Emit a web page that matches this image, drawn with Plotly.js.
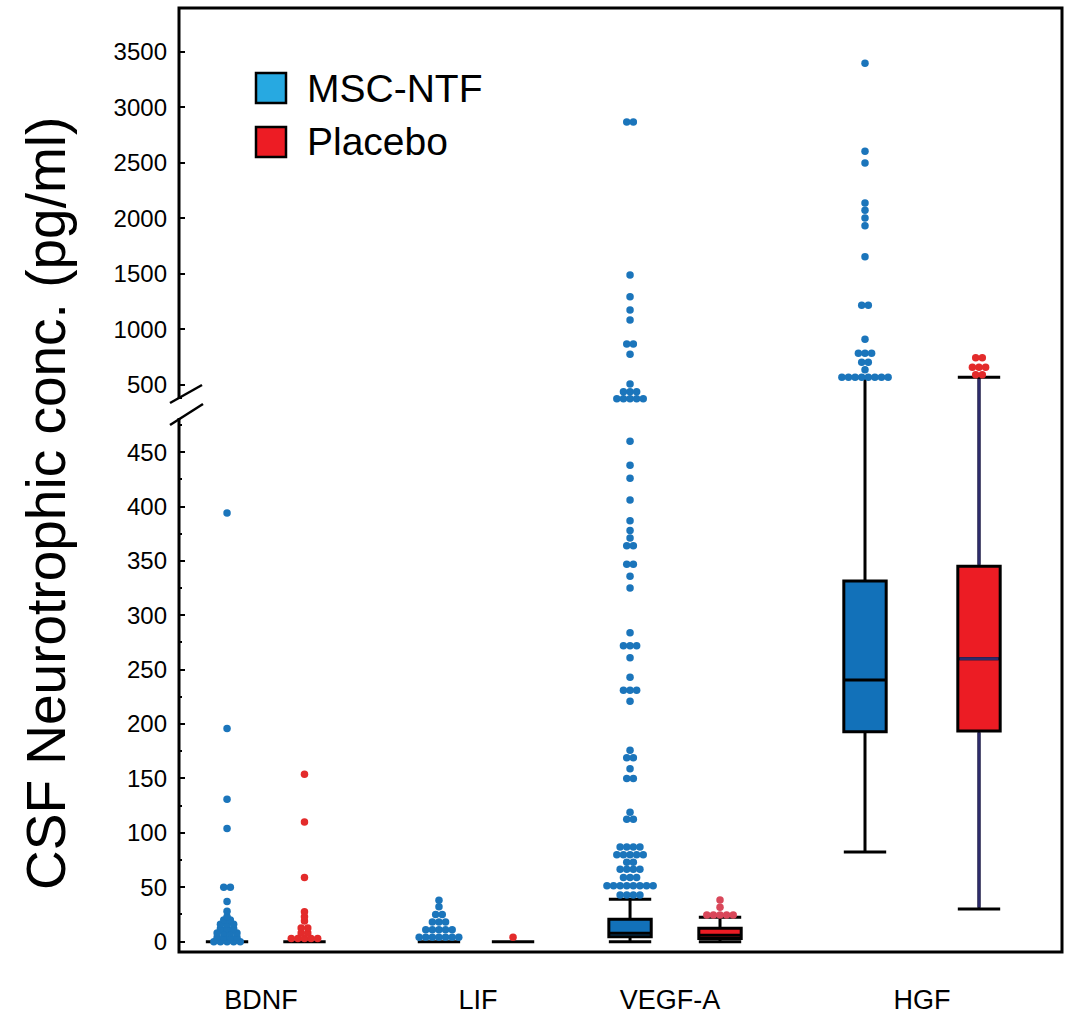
<!DOCTYPE html>
<html>
<head>
<meta charset="utf-8">
<script src="https://cdn.plot.ly/plotly-3.0.1.min.js"></script>
<style>html,body{margin:0;padding:0;background:#fff;}#chart{width:1076px;height:1014px;}</style>
</head>
<body>
<div id="chart"></div>
<script>
// ---------- data ----------
const categories = ['BDNF', 'LIF', 'VEGF-A', 'HGF'];
const groups = ['MSC-NTF', 'Placebo'];

// box statistics (pg/ml), one value per category
const mscQ1     = [0, 0, 4.6, 193];
const mscMedian = [0, 0, 7.7, 240.5];
const mscQ3     = [0, 0, 20.6, 331.5];
const mscLower  = [0, 0, 0, 82.5];
const mscUpper  = [0, 0, 39, 569];

const plaQ1     = [0, 0, 3, 193.7];
const plaMedian = [0, 0, 6, 260];
const plaQ3     = [0, 0, 12.3, 345];
const plaLower  = [0, 0, 0, 30];
const plaUpper  = [0, 0, 22.4, 569];

// individual outlying values, read on the lower (0-500) scale
const bdnfMscOut = [0,0,0,0,0, 4,4,4,4, 8,8,8,8, 12,12,12, 16,16,16, 20,20, 23, 28, 37, 50,50, 104, 131, 196, 394];
const bdnfPlaOut = [3,3,3,3,3, 8,8, 12.5,12.5, 19, 23, 27.6, 59, 110, 154];
const lifMscOut  = [4,4,4,4,4,4,4, 11,11,11,11,11, 18,18,18, 25,25, 32, 38];
const lifPlaOut  = [4];
const vegfMscOut = [43,43,43,43, 51.5,51.5,51.5,51.5,51.5,51.5,51.5,51.5, 59,59,59, 66.5,66.5,66.5,66.5, 73,73,
                    80,80,80,80,80, 87,87,87,87, 112.5,112.5, 119, 150,150, 159, 169,169, 176,
                    221, 231,231,231, 243, 261, 272,272,272, 284, 325, 336, 347,347, 364,364, 371, 378, 387,
                    406, 426, 438, 460, 499,499,499,499,499];
const vegfPlaOut = [24.5,24.5,24.5,24.5,24.5, 31.6, 38.3];
// outlying values read on the upper (compressed) scale
const vegfMscOutHigh = [440,440,440, 509, 776, 869,869, 1085, 1175, 1295, 1490, 2867,2867];
const hgfMscOutHigh  = [569,569,569,569,569,569,569,569, 638, 704,704, 785,785,785, 911, 1217,1217,
                        1655, 1934, 2003, 2072, 2138, 2498, 2603, 3395];
const hgfPlaOutHigh  = [593,593, 659,659,659, 746,746];

// tick labels
const lowTicks  = [0, 50, 100, 150, 200, 250, 300, 350, 400, 450];
const highTicks = [500, 1000, 1500, 2000, 2500, 3000, 3500];

// ---------- layout constants ----------
const posMsc = [0.544, 2.944, 5.108, 7.769];
const posPla = [1.421, 3.783, 6.127, 9.060];
const labelPos = [0.929, 3.386, 5.561, 8.414];
const BOX_W = 0.48;
const PX_PER_X = 883 / 10;
const DOT_DX = 6.6 / PX_PER_X;
const SPLIT = 0.589;                // paper fraction of the axis break
const LOW_RANGE = [-9.5, 501.6];
const HIGH_RANGE = [401, 3893];

const BLUE_BOX = '#1271b9', RED_BOX = '#ec1c24';
const BLUE_DOT = '#1b75bb', RED_DOT = '#e32b2b', PINK_DOT = '#d9475a';
const NAVY = '#2d2b6b';
const FONT = 'Liberation Sans, Arial, sans-serif';

function swarm(values, center) {
  const counts = new Map();
  values.forEach(v => counts.set(v, (counts.get(v) || 0) + 1));
  const seen = new Map();
  const xs = [], ys = [];
  values.forEach(v => {
    const n = counts.get(v);
    const i = seen.get(v) || 0;
    seen.set(v, i + 1);
    xs.push(center + (i - (n - 1) / 2) * DOT_DX);
    ys.push(v);
  });
  return {xs, ys};
}

const traces = [];

function addBoxes(pos, q1, med, q3, lo, hi, fill) {
  for (let i = 0; i < pos.length; i++) {
    traces.push({
      type: 'box', x: [pos[i]], q1: [q1[i]], median: [med[i]], q3: [q3[i]],
      lowerfence: [lo[i]], upperfence: [hi[i]], boxpoints: false,
      width: BOX_W, whiskerwidth: 1, fillcolor: fill,
      line: {color: '#000', width: 3}, yaxis: 'y', xaxis: 'x',
      showlegend: false, hoverinfo: 'skip'
    });
    if (hi[i] > LOW_RANGE[1]) {
      // whisker continues above the axis break
      traces.push({
        type: 'box', x: [pos[i]], q1: [q3[i]], median: [q3[i]], q3: [q3[i]],
        lowerfence: [q3[i]], upperfence: [hi[i]], boxpoints: false,
        width: BOX_W, whiskerwidth: 1, fillcolor: 'rgba(0,0,0,0)',
        line: {color: '#000', width: 3}, yaxis: 'y2', xaxis: 'x',
        showlegend: false, hoverinfo: 'skip'
      });
    }
  }
}
addBoxes(posMsc, mscQ1, mscMedian, mscQ3, mscLower, mscUpper, BLUE_BOX);
addBoxes(posPla, plaQ1, plaMedian, plaQ3, plaLower, plaUpper, RED_BOX);

// navy whiskers and median for the HGF placebo box
(function () {
  const i = 3, p = posPla[i], h = BOX_W / 2 - 0.02;
  const seg = (xs, ys, ax) => traces.push({type: 'scatter', mode: 'lines', x: xs, y: ys, yaxis: ax,
    line: {color: NAVY, width: 3}, showlegend: false, hoverinfo: 'skip'});
  seg([p, p], [plaLower[i] + 1.5, plaQ1[i] - 1.5], 'y');
  seg([p, p], [plaQ3[i] + 1.5, plaUpper[i]], 'y');
  seg([p, p], [plaQ3[i], plaUpper[i] - 15], 'y2');
  seg([p - h, p + h], [plaMedian[i], plaMedian[i]], 'y');
})();

function addDots(values, center, color, axis) {
  const s = swarm(values, center);
  traces.push({
    type: 'scatter', mode: 'markers', x: s.xs, y: s.ys, yaxis: axis, cliponaxis: false,
    marker: {color: color, size: 7.5, line: {width: 0}},
    showlegend: false, hoverinfo: 'y'
  });
}
addDots(bdnfMscOut, posMsc[0], BLUE_DOT, 'y');
addDots(bdnfPlaOut, posPla[0], RED_DOT, 'y');
addDots(lifMscOut, posMsc[1], BLUE_DOT, 'y');
addDots(lifPlaOut, posPla[1], RED_DOT, 'y');
addDots(vegfMscOut, posMsc[2], BLUE_DOT, 'y');
addDots(vegfPlaOut, posPla[2], PINK_DOT, 'y');
addDots(vegfMscOutHigh, posMsc[2], BLUE_DOT, 'y2');
addDots(hgfMscOutHigh, posMsc[3], BLUE_DOT, 'y2');
addDots(hgfPlaOutHigh, posPla[3], RED_DOT, 'y2');

// ---------- layout ----------
const px = v => (v - 179) / 883;
const py = v => (952 - v) / 944;

const axisCommon = {
  showgrid: false, zeroline: false, showline: false,
  ticks: 'inside', ticklen: 6, tickwidth: 2, tickcolor: '#000',
  tickfont: {family: FONT, size: 24, color: '#000'}, ticklabelstandoff: 11,
  anchor: 'x', fixedrange: true
};

const layout = {
  width: 1076, height: 1014,
  margin: {l: 179, r: 14, t: 8, b: 62, pad: 0},
  paper_bgcolor: '#fff', plot_bgcolor: '#fff',
  showlegend: false, boxmode: 'overlay',
  font: {family: FONT, color: '#000'},
  xaxis: {
    range: [0, 10], showgrid: false, zeroline: false, showline: false,
    tickmode: 'array', tickvals: labelPos, ticktext: categories, ticks: '',
    tickfont: {family: FONT, size: 27, color: '#000'}, ticklabelstandoff: 29, fixedrange: true
  },
  yaxis: Object.assign({}, axisCommon, {
    domain: [0, SPLIT], range: LOW_RANGE,
    tickmode: 'array', tickvals: lowTicks, ticktext: lowTicks.map(String),
    minor: {tickmode: 'linear', tick0: 0, dtick: 25, ticks: 'inside', ticklen: 3, tickwidth: 2, tickcolor: '#000'}
  }),
  yaxis2: Object.assign({}, axisCommon, {
    domain: [SPLIT, 1], range: HIGH_RANGE,
    tickmode: 'array', tickvals: highTicks, ticktext: highTicks.map(String)
  }),
  shapes: [
    {type: 'rect', xref: 'paper', yref: 'paper', x0: 0, x1: 1, y0: 0, y1: 1,
     line: {color: '#000', width: 3}, fillcolor: 'rgba(0,0,0,0)'},
    // axis break
    {type: 'rect', xref: 'paper', yref: 'paper', x0: px(176), x1: px(182), y0: py(418), y1: py(399),
     line: {width: 0}, fillcolor: '#fff'},
    {type: 'line', xref: 'paper', yref: 'paper', x0: px(170), y0: py(403), x1: px(202), y1: py(385),
     line: {color: '#000', width: 2.5}},
    {type: 'line', xref: 'paper', yref: 'paper', x0: px(170), y0: py(425), x1: px(203), y1: py(404),
     line: {color: '#000', width: 2.5}},
    // legend swatches
    {type: 'rect', xref: 'paper', yref: 'paper', x0: px(256), x1: px(286), y0: py(103), y1: py(73),
     line: {color: '#000', width: 2.5}, fillcolor: '#27a9e1'},
    {type: 'rect', xref: 'paper', yref: 'paper', x0: px(256), x1: px(286), y0: py(157), y1: py(127),
     line: {color: '#000', width: 2.5}, fillcolor: '#ed1c24'}
  ],
  annotations: [
    {text: groups[0], xref: 'paper', yref: 'paper', x: px(305), y: py(88), xanchor: 'left', yanchor: 'middle',
     showarrow: false, font: {family: FONT, size: 39, color: '#000'}},
    {text: groups[1], xref: 'paper', yref: 'paper', x: px(305), y: py(142), xanchor: 'left', yanchor: 'middle',
     showarrow: false, font: {family: FONT, size: 39, color: '#000'}},
    {text: 'CSF Neurotrophic conc. (pg/ml)', xref: 'paper', yref: 'paper', x: px(46), y: py(504),
     xanchor: 'center', yanchor: 'middle', textangle: -90, showarrow: false,
     font: {family: FONT, size: 55, color: '#000'}}
  ]
};

Plotly.newPlot('chart', traces, layout, {staticPlot: true, displayModeBar: false});
</script>
</body>
</html>
